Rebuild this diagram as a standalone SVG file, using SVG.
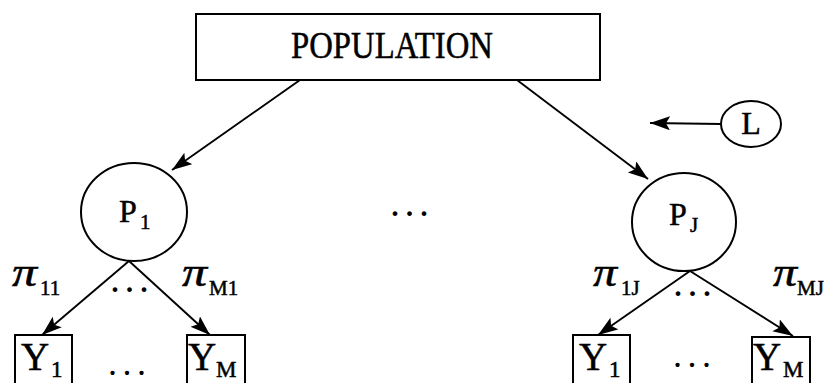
<svg xmlns="http://www.w3.org/2000/svg" width="824" height="383" viewBox="0 0 824 383">
<style>
  .shape{fill:none;stroke:#000;stroke-width:2}
  .edge{fill:none;stroke:#000;stroke-width:1.9}
  text{font-family:"Liberation Serif","Times New Roman",serif;fill:#000;stroke:#000;stroke-width:0.5}
  .big{font-size:37px}
  .node{font-size:32px}
  .sub{font-size:21px}
  .pi{font-size:40px;font-style:italic}
  .pisub{font-size:21px}
  .y{font-size:39px}
  .ysub{font-size:23px}
  .dots{font-size:40px;letter-spacing:4.5px;stroke:none}
  .dotsb{font-size:36px;letter-spacing:5.5px;stroke:none}
</style>
<defs>
  <marker id="ah" markerUnits="userSpaceOnUse" markerWidth="22" markerHeight="16" refX="20" refY="7" orient="auto">
    <path d="M0,0 L20,7 L0,14 L4,7 z" fill="#000"/>
  </marker>
</defs>
<rect width="824" height="383" fill="#fff"/>

<g id="population">
  <rect class="shape" x="196" y="14" width="404" height="66"/>
  <text class="big" x="291" y="58" textLength="202" lengthAdjust="spacingAndGlyphs">POPULATION</text>
</g>

<g id="L">
  <ellipse class="shape" cx="751" cy="124" rx="30" ry="23"/>
  <text class="node" x="751" y="134" text-anchor="middle">L</text>
</g>

<g id="P1">
  <ellipse class="shape" cx="134" cy="212" rx="53" ry="49"/>
  <text class="node" x="119" y="222">P</text>
  <text class="sub" x="140" y="229">1</text>
</g>

<g id="PJ">
  <ellipse class="shape" cx="684" cy="222" rx="52" ry="49"/>
  <text class="node" x="669" y="225">P</text>
  <text class="sub" x="690" y="232">J</text>
</g>

<g id="Y1_left">
  <rect class="shape" x="15" y="335" width="57" height="70"/>
  <text class="y" x="21" y="370">Y</text>
  <text class="ysub" x="51" y="377">1</text>
</g>
<g id="YM_left">
  <rect class="shape" x="187" y="335" width="58" height="70"/>
  <text class="y" x="188" y="370">Y</text>
  <text class="ysub" x="216" y="377">M</text>
</g>
<g id="Y1_right">
  <rect class="shape" x="573" y="335" width="57" height="70"/>
  <text class="y" x="579" y="370">Y</text>
  <text class="ysub" x="609" y="377">1</text>
</g>
<g id="YM_right">
  <rect class="shape" x="752" y="337" width="58" height="70"/>
  <text class="y" x="753" y="370">Y</text>
  <text class="ysub" x="783" y="377">M</text>
</g>

<g id="connectors">
  <line class="edge" x1="300" y1="80" x2="172" y2="170" marker-end="url(#ah)"/>
  <line class="edge" x1="517" y1="80" x2="648" y2="179" marker-end="url(#ah)"/>
  <line class="edge" x1="721" y1="124" x2="650" y2="123" marker-end="url(#ah)"/>
  <line class="edge" x1="129" y1="261" x2="42" y2="335" marker-end="url(#ah)"/>
  <line class="edge" x1="129" y1="261" x2="210" y2="335" marker-end="url(#ah)"/>
  <line class="edge" x1="690" y1="271" x2="598" y2="335" marker-end="url(#ah)"/>
  <line class="edge" x1="690" y1="271" x2="793" y2="336" marker-end="url(#ah)"/>
</g>

<g id="labels">
  <text class="pi" x="12" y="286" textLength="25" lengthAdjust="spacingAndGlyphs">π</text>
  <text class="pisub" x="40" y="295">11</text>
  <text class="pi" x="182" y="286" textLength="25" lengthAdjust="spacingAndGlyphs">π</text>
  <text class="pisub" x="209" y="295">M1</text>
  <text class="pi" x="593" y="286" textLength="24" lengthAdjust="spacingAndGlyphs">π</text>
  <text class="pisub" x="621" y="295">1J</text>
  <text class="pi" x="773" y="286" textLength="24" lengthAdjust="spacingAndGlyphs">π</text>
  <text class="pisub" x="797" y="295">MJ</text>
  <text class="dots" x="110" y="292">...</text>
  <text class="dots" x="673" y="296">...</text>
  <text class="dots" x="390" y="216">...</text>
  <text class="dotsb" x="108" y="375">...</text>
  <text class="dotsb" x="673" y="367">...</text>
</g>
</svg>
